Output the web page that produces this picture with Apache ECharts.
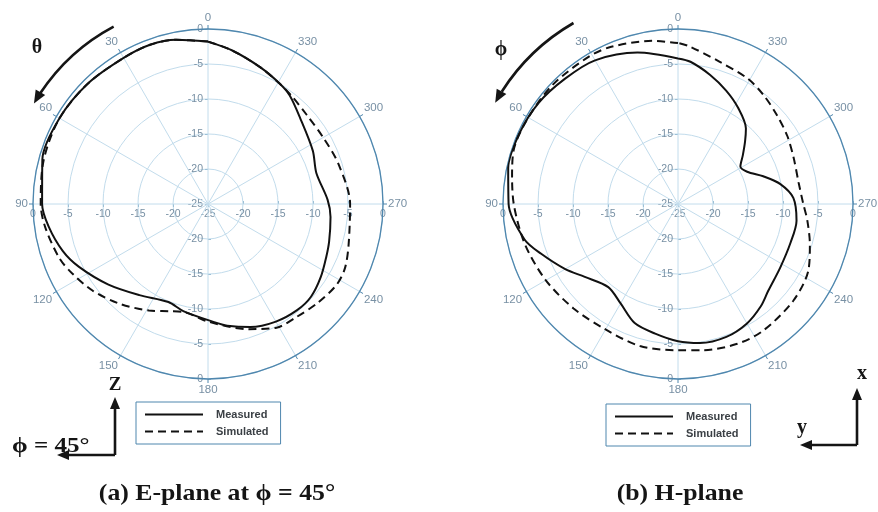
<!DOCTYPE html>
<html><head><meta charset="utf-8">
<script src="https://cdn.jsdelivr.net/npm/echarts@6/dist/echarts.min.js"></script>
<style>html,body{margin:0;padding:0;background:#fff}#c{width:878px;height:512px}</style>
</head><body><div id="c"></div>
<script>
// ---------- data ----------
const angleTickLabels = ['0','30','60','90','120','150','180','210','240','270','300','330'];
const radiusTicks = [-25, -20, -15, -10, -5, 0];

// (a) E-plane at phi = 45 deg  (angle in degrees, value in dB)
const eMeasAngles = [0,11,20,30,45,60,75,90,98,108,116,129,143,158,167,183,189,199,210,220,228,237,246,253,264,272,286,297,313,323,329,339,351,360];
const eMeasured   = [-1.8,-1.1,-0.8,-0.9,-0.7,-0.5,-0.5,-1.3,-2.0,-3.2,-4.5,-6.7,-8.7,-9.9,-9.3,-8.1,-7.4,-6.4,-5.6,-5.2,-5.2,-5.8,-6.5,-6.9,-7.4,-7.9,-8.9,-8.2,-7.0,-5.6,-5.0,-4.1,-2.8,-1.8];
const eSimAngles  = [0,11,20,30,45,60,75,90,98,110,117,127,138,151,160,168,180,198,209,218,228,238,245,254,270,287,300,312,322,329,339,351,360];
const eSimulated  = [-1.8,-1.1,-0.8,-0.9,-0.7,-0.5,-0.7,-1.1,-1.5,-2.4,-3.2,-4.4,-5.9,-7.6,-8.7,-9.2,-8.2,-6.2,-4.8,-4.5,-3.9,-3.3,-3.4,-4.1,-4.7,-5.5,-6.0,-6.0,-5.5,-5.0,-4.1,-2.8,-1.8];

// (b) H-plane
const hMeasAngles = [0,15,30,42,54,66,78,90,103,110,120,128,140,150,160,170,180,189,200,210,219,226,238,251,262,273,281,288,295,301,307,313,318,328,337,346,355,360];
const hMeasured   = [-4.2,-2.6,-1.3,-0.9,-0.4,-0.2,-0.2,-0.8,-2.5,-4.2,-6.4,-8.1,-9.5,-8.6,-6.9,-6.2,-5.4,-4.9,-4.8,-5.3,-6.2,-7.1,-7.8,-8.0,-7.9,-8.5,-10.1,-12.2,-14.1,-14.6,-13.4,-11.9,-10.5,-8.8,-7.4,-6.0,-4.6,-4.2];
const hSimAngles  = [0,9,23,31,46,60,72,81,91,105,120,135,150,165,180,190,203,214,230,243,253,263,270,280,292,302,312,322,331,344,356,360];
const hSimulated  = [-2.0,-1.4,-0.6,-0.4,-0.3,-0.3,-0.3,-1.0,-1.6,-2.4,-3.2,-3.9,-4.3,-4.0,-4.1,-3.8,-3.3,-3.2,-3.5,-4.1,-5.3,-6.4,-7.1,-7.5,-7.2,-6.6,-6.0,-5.2,-4.5,-3.8,-2.4,-2.0];

const seriesNames = ['Measured', 'Simulated'];
const titles = ['(a) E-plane at \u03D5 = 45\u00B0', '(b) H-plane'];

// ---------- layout / style ----------
const centers = [[208, 204], [678, 204]];
const R = 175;
const gridColor = '#c2dcec';
const rimColor = '#4f87ae';
const labelColor = '#7890a4';
const sans = "'Liberation Sans', Arial, sans-serif";
const serif = "'Liberation Serif', 'DejaVu Serif', serif";

const polar = [], angleAxis = [], radiusAxis = [];
const dirs = [90, 270, 180, 0];
centers.forEach((c, ci) => {
  dirs.forEach((sa, k) => {
    const idx = ci * 4 + k;
    polar.push({ center: c, radius: R });
    if (k === 0) {
      angleAxis.push({
        polarIndex: idx, type: 'value', min: 0, max: 360, interval: 30,
        startAngle: 90, clockwise: false, z: 2,
        axisLine: { lineStyle: { color: rimColor, width: 1.3 } },
        axisTick: { show: true, length: 4, lineStyle: { color: rimColor } },
        axisLabel: { color: labelColor, fontSize: 11.5, fontFamily: sans, margin: 5,
          formatter: v => (v >= 360 ? '' : angleTickLabels[Math.round(v / 30)]) },
        splitLine: { show: true, lineStyle: { color: gridColor, width: 1 } }
      });
    } else {
      angleAxis.push({ polarIndex: idx, type: 'value', min: 0, max: 360, startAngle: sa, clockwise: false, show: false });
    }
    const lab = { color: labelColor, fontSize: 10.5, fontFamily: sans, formatter: v => String(v) };
    if (k === 0) Object.assign(lab, { margin: 5 });
    if (k === 1) Object.assign(lab, { margin: -5, align: 'right', showMinLabel: false });
    if (k === 2) Object.assign(lab, { margin: 5 });
    if (k === 3) Object.assign(lab, { margin: -5, verticalAlign: 'top', showMinLabel: false });
    radiusAxis.push({
      polarIndex: idx, type: 'value', min: radiusTicks[0], max: radiusTicks[radiusTicks.length - 1], interval: 5,
      z: 1,
      axisLine: { show: false },
      axisTick: { show: true, length: 3, lineStyle: { color: '#9cc0d6' } },
      axisLabel: lab,
      splitLine: { show: k === 0, lineStyle: { color: gridColor, width: 1 } }
    });
  });
});

function pairs(angles, vals) { return angles.map((a, i) => [vals[i], a]); }
function mk(name, pIdx, angles, vals, dashed) {
  return {
    name: name, type: 'line', coordinateSystem: 'polar', polarIndex: pIdx, data: pairs(angles, vals),
    smooth: 0.3, symbol: 'none', showSymbol: false,
    lineStyle: { color: '#111', width: 2, type: dashed ? [8, 5] : 'solid' },
    itemStyle: { color: '#111' }, z: 5
  };
}
const series = [
  mk(seriesNames[0], 0, eMeasAngles, eMeasured, false),
  mk(seriesNames[1], 0, eSimAngles, eSimulated, true),
  mk(seriesNames[0], 4, hMeasAngles, hMeasured, false),
  mk(seriesNames[1], 4, hSimAngles, hSimulated, true)
];

const legendBase = {
  data: seriesNames, orient: 'vertical', itemWidth: 58, itemHeight: 10, itemGap: 6,
  padding: [7, 12, 7, 8], borderColor: rimColor, borderWidth: 1, backgroundColor: '#fff',
  selectedMode: false,
  itemStyle: { opacity: 0 },
  textStyle: { fontSize: 11, fontWeight: 'bold', color: '#3a3f44', fontFamily: sans, padding: [0, 0, 0, 8] }
};
const legend = [
  Object.assign({}, legendBase, { left: 136, top: 402 }),
  Object.assign({}, legendBase, { left: 606, top: 404 })
];

// ---------- annotations ----------
const ink = '#151515';
function head(tip, dir, len, half) {
  const bx = tip[0] - dir[0] * len, by = tip[1] - dir[1] * len;
  return { type: 'polygon', z: 20, shape: { points: [tip, [bx - dir[1] * half, by + dir[0] * half], [bx + dir[1] * half, by - dir[0] * half]] }, style: { fill: ink } };
}
function arcArrow(c, r, t0, t1) {
  const rad = d => d * Math.PI / 180;
  const tipT = t1 + 3.5;
  const tip = [c[0] - r * Math.sin(rad(tipT)), c[1] - r * Math.cos(rad(tipT))];
  const dir = [-Math.cos(rad(tipT)), Math.sin(rad(tipT))];
  return [
    { type: 'arc', z: 20, shape: { cx: c[0], cy: c[1], r: r, startAngle: rad(-(90 + t0)), endAngle: rad(-(90 + t1)), clockwise: false },
      style: { stroke: ink, lineWidth: 2.6, fill: null } },
    head(tip, dir, 13, 5.5)
  ];
}
function txt(x, y, s, size, align, sx) {
  return { type: 'text', z: 21, x: x, y: y, scaleX: sx || 1, style: { text: s, font: 'bold ' + size + 'px ' + serif, fill: ink, align: align || 'center', verticalAlign: 'middle' } };
}
function line(p1, p2) {
  return { type: 'line', z: 20, shape: { x1: p1[0], y1: p1[1], x2: p2[0], y2: p2[1] }, style: { stroke: ink, lineWidth: 2.6 } };
}

const graphic = [].concat(
  arcArrow(centers[0], 201, 28, 56.5),
  arcArrow(centers[1], 209, 30, 57.5),
  [
    txt(37, 48, '\u03B8', 20),
    txt(501, 50, '\u03D5', 20),
    line([115, 455], [115, 407]), head([115, 397], [0, -1], 12, 5),
    line([115, 455], [68, 455]), head([57, 455], [-1, 0], 12, 5),
    txt(115, 385, 'Z', 19),
    txt(12, 446, '\u03D5 = 45\u00B0', 22, 'left', 1.14),
    line([857, 445], [857, 398]), head([857, 388], [0, -1], 12, 5),
    line([857, 445], [811, 445]), head([800, 445], [-1, 0], 12, 5),
    txt(862, 374, 'x', 20),
    txt(802, 428, 'y', 20),
    txt(217, 494, titles[0], 23, 'center', 1.12),
    txt(680, 494, titles[1], 23, 'center', 1.12)
  ]
);

const chart = echarts.init(document.getElementById('c'), null, { renderer: 'canvas' });
chart.setOption({
  backgroundColor: '#ffffff',
  animation: false,
  polar: polar,
  angleAxis: angleAxis,
  radiusAxis: radiusAxis,
  legend: legend,
  series: series,
  graphic: graphic
});
</script></body></html>
